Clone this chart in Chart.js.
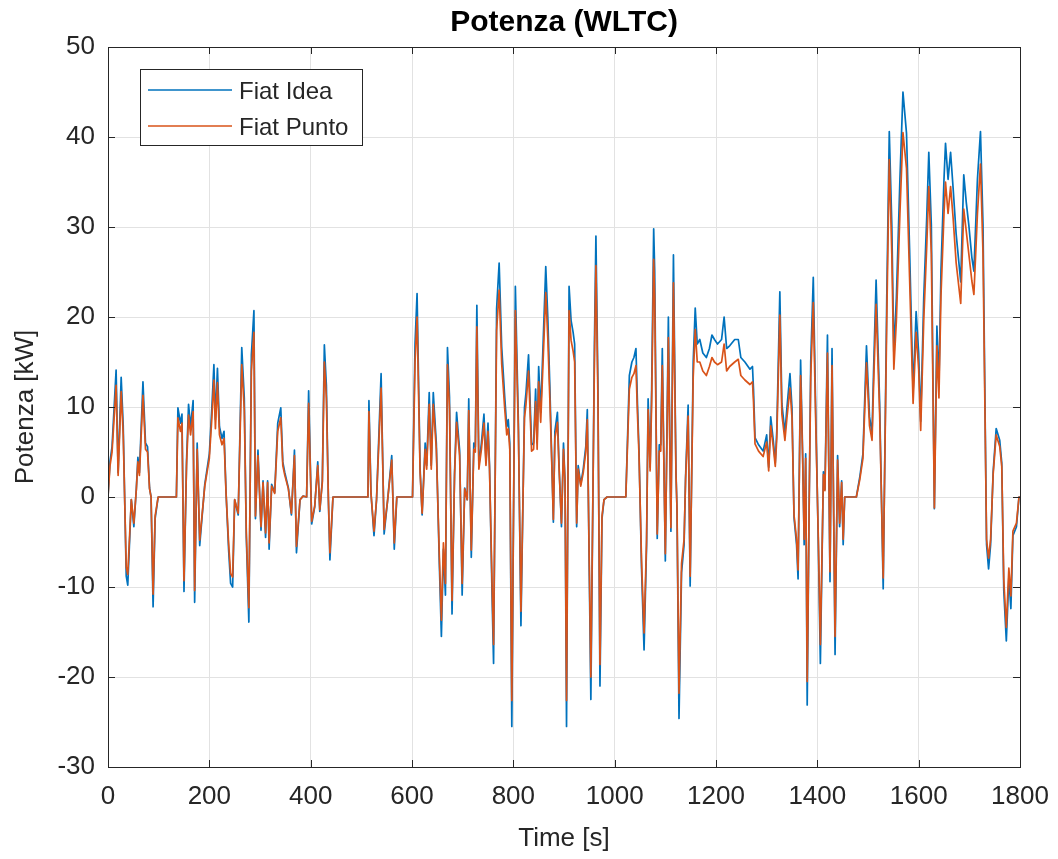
<!DOCTYPE html>
<html>
<head>
<meta charset="utf-8">
<script src="https://cdn.jsdelivr.net/npm/chart.js@4"></script>
<style>
  body { margin: 0; background: #fff; }
</style>
</head>
<body>
<canvas id="potenzaChart" width="1058" height="859"></canvas>
<script>
// tempo [s]
const time = [
  0, 4, 8, 16, 20, 26, 30, 36, 39, 46, 51, 56, 59, 62, 69, 74, 78, 82, 85, 89, 93, 99,
  135, 138, 143, 146, 150, 155, 159, 163, 168, 171, 176, 181, 191, 200, 205, 209, 212, 216,
  220, 225, 229, 233, 238, 242, 246, 250, 257, 264, 269, 273, 278, 283, 288, 291, 296, 302,
  306, 311, 315, 318, 323, 329, 335, 341, 345, 349, 356, 362, 368, 372, 379, 385, 392, 396,
  402, 408, 414, 418, 423, 427, 431, 435, 438, 444,
  513, 515, 519, 525, 530, 539, 545, 552, 560, 565, 570,
  601, 606, 610, 616, 620, 626, 629, 634, 638, 642, 648, 654, 658, 662, 666, 670, 674, 679,
  684, 688, 694, 699, 704, 709, 712, 717, 722, 725, 728, 732, 737, 742, 746, 750, 753, 758,
  761, 767, 772, 777, 783, 787, 790, 793, 797, 804, 810, 815, 822, 825, 830, 836, 840, 844,
  847, 850, 854, 858, 864, 868, 872, 876, 879, 882, 887, 890, 895, 899, 902, 905, 910, 914,
  918, 921, 925, 928, 933, 938, 943, 946, 950, 953, 960, 963, 967, 971, 975, 979, 985,
  1022, 1029, 1034, 1038, 1042, 1045, 1048, 1053, 1058, 1063, 1066, 1070, 1073, 1077, 1079,
  1084, 1088, 1091, 1094, 1100, 1106, 1111, 1116, 1121, 1123, 1127, 1132, 1137, 1140, 1145,
  1149, 1155, 1159, 1163, 1168, 1174, 1181, 1187, 1192, 1197, 1203, 1211, 1216, 1221, 1227,
  1237, 1244, 1249, 1257, 1267, 1272, 1274, 1277, 1284, 1293, 1300, 1304, 1308, 1313, 1317,
  1320, 1326, 1330, 1336, 1340, 1346, 1350, 1354, 1359, 1362, 1367, 1371, 1374, 1377, 1380,
  1384, 1387, 1392, 1397, 1402, 1406, 1412, 1415, 1420, 1425, 1429, 1435, 1440, 1444, 1448,
  1451, 1454, 1477, 1484, 1490, 1497, 1503, 1508, 1511, 1516, 1523, 1530, 1537, 1542, 1547,
  1551, 1556, 1563, 1569, 1576, 1582, 1589, 1595, 1600, 1604, 1610, 1616, 1620, 1625, 1631,
  1636, 1640, 1644, 1650, 1653, 1658, 1663, 1668, 1674, 1683, 1689, 1694, 1699, 1705, 1709,
  1716, 1722, 1727, 1734, 1738, 1742, 1747, 1753, 1760, 1764, 1768, 1773, 1778, 1782, 1786,
  1793, 1798, 1800
];

// Fiat Idea [kW]
const idea = [
  0, 4, 5.6, 14.1, 2.7, 13.3, 8, -8.8, -9.8, -0.3, -3.3, 1, 4.4, 2.7, 12.8, 6, 5.6, 1, 0, -12.2, -2.4, 0,
  0, 9.9, 8.2, 9.2, -10.5, 4, 10.3, 7.8, 10.7, -11.7, 6, -5.4, 1.4, 4.8, 9.9, 14.7, 8.6, 14.3,
  7.8, 6.5, 7.3, 0.5, -5.8, -9.6, -10, -0.3, -2, 16.6, 11, -4.5, -13.9, 15.8, 20.7, -2.4, 5.2, -3.7,
  1.8, -4.5, 1.8, -5.8, 1.4, 0.5, 8.2, 9.9, 3.9, 2.7, 1, -2, 5.2, -6.2, -0.3, 0.1, 0, 11.8,
  -3, -1.1, 3.9, -1.6, 1.8, 16.9, 12.4, -0.3, -7, 0,
  0, 10.7, 0.5, -4.3, -0.3, 13.7, -4.1, -0.3, 4.6, -5.8, 0,
  0, 17, 22.6, 3.1, -2, 6, 3.5, 11.6, 3.5, 11.6, 6, -7.5, -15.5, -5.8, -10.9, 16.6, 11.1, -13,
  2.7, 9.4, 5.2, -10.9, 1, -0.3, 10.9, -6.7, 6, 5.6, 21.3, 3.5, 6, 9.2, 3.9, 8.2, 3.5, -10.9,
  -18.5, 20.9, 26, 16.7, 11.1, 7.8, 8.6, 6, -25.5, 23.4, 8.2, -14.3, 9.9, 11.6, 15.8, 5.8, 6, 12,
  6, 14.5, 9.4, 15.8, 25.6, 20, 12.4, 3.9, -2.8, 7.3, 9.4, 3.9, -3.3, 6, 1.8, -25.5, 23.4, 19.6,
  18.3, 17, -3.3, 3.5, 1.4, 3.1, 5.6, 9.7, -8.8, -22.5, 16.7, 29, 12.4, -21, -2.4, -0.3, 0,
  0, 13.5, 15, 15.5, 16.5, 10.4, 5.3, -7.9, -17, -5.3, 10.9, 3.3, 11.9, 29.8, 25.1,
  -4.6, 5.8, 5.8, 16.5, -7.1, 20, -3.8, 26.9, 2.8, -1.3, -24.6, -8.4, -5.3, 2.3, 10.2,
  -9.9, 15, 21, 17, 17.5, 16, 15.5, 16.5, 18, 17.5, 17, 17.5, 20, 16.5, 16.8,
  17.5, 17.5, 15.5, 15, 14.2, 14.5, 12, 6.6, 5.8, 5.1, 6.9, 3.3, 8.9, 6.3, 3.8,
  7.4, 22.8, 10.4, 7.1, 9.9, 13.7, 9.9, -2.3, -5.3, -9.1, 15.2, 4.8, -5.3, 4.8, -23.1,
  -0.3, 15, 24.4, 8.9, -5.3, -18.5, 2.8, 0.8, 18, -9.4, 16.5, -17.5, 4.6, -3.3, 1.8,
  -5.3, 0, 0, 2.3, 4.8, 16.8, 8.9, 7.1, 14, 24.1, 10.4, -10.2, 22, 40.6, 30.2,
  16, 22.1, 35.3, 45, 40.4, 27.7, 11.7, 20.6, 16, 8.4, 22.1, 31.2, 38.3, 30.2, -1.3,
  19, 12.4, 25.1, 35.3, 39.3, 35.3, 38.3, 34.3, 29.2, 23.9, 35.8, 32.7, 30.2, 26.6, 25.1,
  35.3, 40.6, 30.2, -5.3, -8, -5.3, 2.8, 7.6, 6.3, 3.8, -10.4, -16, -8.9, -12.4, -4.3,
  -3.3, 0, 0
];

// Fiat Punto [kW]
const punto = [
  0, 3.5, 5, 12.4, 2.4, 11.7, 7, -7.8, -8.6, -0.3, -2.9, 0.9, 3.9, 2.4, 11.3, 5.3, 5, 0.9, 0, -10.8, -2.1, 0,
  0, 8.8, 7.3, 8.2, -9.3, 3.5, 9.1, 6.9, 9.5, -10.4, 5.3, -4.8, 1.2, 4.3, 8.8, 13, 7.6, 12.7,
  6.9, 5.8, 6.5, 0.4, -5.1, -8.5, -8.9, -0.3, -1.8, 14.7, 9.7, -4, -12.3, 14, 18.3, -2.1, 4.6, -3.3,
  1.6, -4, 1.6, -5.1, 1.2, 0.4, 7.3, 8.8, 3.5, 2.4, 0.9, -1.8, 4.6, -5.5, -0.3, 0.1, 0, 10.4,
  -2.7, -1, 3.5, -1.4, 1.6, 15, 11, -0.3, -6.2, 0,
  0, 9.5, 0.4, -3.8, -0.3, 12.1, -3.6, -0.3, 4.1, -5.1, 0,
  0, 15, 20, 2.7, -1.8, 5.3, 3.1, 10.3, 3.1, 10.3, 5.3, -6.6, -13.7, -5.1, -9.6, 14.7, 9.8, -11.5,
  2.4, 8.3, 4.6, -9.6, 0.9, -0.3, 9.6, -5.9, 5.3, 5, 18.9, 3.1, 5.3, 8.2, 3.5, 7.3, 3.1, -9.6,
  -16.4, 18.5, 23, 14.8, 9.8, 6.9, 7.6, 5.3, -22.6, 20.7, 7.3, -12.7, 8.8, 10.3, 14, 5.1, 5.3, 10.6,
  5.3, 12.8, 8.3, 14, 22.7, 17.7, 11, 3.5, -2.5, 6.5, 8.3, 3.5, -2.9, 5.3, 1.6, -22.6, 20.7, 17.4,
  16.2, 15, -2.9, 3.1, 1.2, 2.7, 5, 8.6, -7.8, -20, 14.8, 25.7, 11, -18.6, -2.1, -0.3, 0,
  0, 12, 13.3, 13.7, 14.6, 9.2, 4.7, -7, -15.1, -4.7, 9.7, 2.9, 10.5, 26.4, 22.2,
  -4.1, 5.1, 5.1, 14.6, -6.3, 17.7, -3.4, 23.8, 2.5, -1.2, -21.8, -7.4, -4.7, 2, 9,
  -8.8, 13.3, 18.6, 15, 15, 14, 13.5, 14.5, 15.5, 15, 14.7, 15, 17, 14, 14.5,
  15, 15.3, 13.5, 13, 12.5, 12.8, 10.6, 5.9, 5.1, 4.5, 6.1, 2.9, 7.9, 5.6, 3.4,
  6.6, 20.2, 9.2, 6.3, 8.8, 12.1, 8.8, -2, -4.7, -8.1, 13.5, 4.3, -4.7, 4.3, -20.5,
  -0.3, 13.3, 21.6, 7.9, -4.7, -16.4, 2.5, 0.7, 16, -8.3, 14.6, -15.5, 4.1, -2.9, 1.6,
  -4.7, 0, 0, 2, 4.3, 14.9, 7.9, 6.3, 12.4, 21.4, 9.2, -9, 19.5, 37.5, 27,
  14.2, 19.6, 31.5, 40.5, 36.5, 24.5, 10.4, 18.3, 14.2, 7.4, 19.6, 28, 34.5, 27, -1.2,
  16.8, 11, 22.3, 31.5, 35, 31.5, 34.5, 31, 26, 21.5, 32, 29.5, 27, 24, 22.5,
  31.5, 37, 27, -4.7, -6.8, -4.7, 2.5, 6.9, 5.6, 3.4, -9.2, -14.5, -7.9, -11, -3.8,
  -2.9, 0, 0
];

const timeTicks = [0, 200, 400, 600, 800, 1000, 1200, 1400, 1600, 1800];
const powerTicks = [-30, -20, -10, 0, 10, 20, 30, 40, 50];

const FONT = "'Liberation Sans', Arial, sans-serif";
const INK = "#262626";

// frame, inward ticks, axes title and legend, MATLAB style
const frameAndLegend = {
    id: "frameAndLegend",
    afterDraw(chart) {
        const { ctx, chartArea: a, scales } = chart;
        ctx.save();
        ctx.strokeStyle = INK;
        ctx.lineWidth = 1;
        ctx.strokeRect(a.left + 0.5, a.top + 0.5, a.right - a.left, a.bottom - a.top);
        ctx.beginPath();
        timeTicks.forEach((t) => {
            const px = Math.round(scales.x.getPixelForValue(t)) + 0.5;
            ctx.moveTo(px, a.bottom);
            ctx.lineTo(px, a.bottom - 7);
            ctx.moveTo(px, a.top);
            ctx.lineTo(px, a.top + 7);
        });
        powerTicks.forEach((v) => {
            const py = Math.round(scales.y.getPixelForValue(v)) + 0.5;
            ctx.moveTo(a.left, py);
            ctx.lineTo(a.left + 7, py);
            ctx.moveTo(a.right, py);
            ctx.lineTo(a.right - 7, py);
        });
        ctx.stroke();

        // title, centred on the axes
        ctx.fillStyle = "#000";
        ctx.font = "bold 30px " + FONT;
        ctx.textAlign = "center";
        ctx.textBaseline = "middle";
        ctx.fillText("Potenza (WLTC)", (a.left + a.right) / 2, 23);

        // legend box
        const lx = a.left + 32, ly = a.top + 22, lw = 222, lh = 76;
        ctx.fillStyle = "#fff";
        ctx.fillRect(lx, ly, lw, lh);
        ctx.strokeRect(lx + 0.5, ly + 0.5, lw, lh);
        const items = [
            { text: "Fiat Idea", color: "#0072BD", y: ly + 21 },
            { text: "Fiat Punto", color: "#D95319", y: ly + 57 },
        ];
        ctx.font = "24px " + FONT;
        ctx.textAlign = "left";
        items.forEach((it) => {
            ctx.strokeStyle = it.color;
            ctx.lineWidth = 1.5;
            ctx.beginPath();
            ctx.moveTo(lx + 8, it.y);
            ctx.lineTo(lx + 92, it.y);
            ctx.stroke();
            ctx.fillStyle = INK;
            ctx.fillText(it.text, lx + 99, it.y + 2);
        });
        ctx.restore();
    },
};

const ctx = document.getElementById("potenzaChart").getContext("2d");
const potenzaChart = new Chart(ctx, {
    type: "line",
    data: {
        datasets: [
            {
                label: "Fiat Idea",
                data: time.map((t, i) => ({ x: t, y: idea[i] })),
                borderColor: "#0072BD",
                borderWidth: 1.7,
                borderJoinStyle: "round",
                pointRadius: 0,
                tension: 0,
                order: 1,
            },
            {
                label: "Fiat Punto",
                data: time.map((t, i) => ({ x: t, y: punto[i] })),
                borderColor: "#D95319",
                borderWidth: 1.7,
                borderJoinStyle: "round",
                pointRadius: 0,
                tension: 0,
                order: 0,
            },
        ],
    },
    options: {
        responsive: false,
        animation: false,
        events: [],
        layout: { padding: { top: 47, right: 38, bottom: 0, left: 0 } },
        plugins: {
            legend: { display: false },
            tooltip: { enabled: false },
            title: { display: false },
        },
        scales: {
            x: {
                type: "linear",
                min: 0,
                max: 1800,
                afterBuildTicks: (s) => { s.ticks = timeTicks.map((v) => ({ value: v })); },
                afterFit: (s) => {
                    s.height = 92;
                    s.paddingLeft = 0;
                    s.paddingRight = 0;
                },
                ticks: {
                    color: INK,
                    font: { family: FONT, size: 26 },
                    padding: 14,
                    maxRotation: 0,
                    callback: (v) => String(v),
                },
                grid: { color: "#e2e2e2", drawTicks: false },
                border: { display: false },
                title: {
                    display: true,
                    text: "Time [s]",
                    color: INK,
                    font: { family: FONT, size: 26 },
                    padding: { top: 0, bottom: 5 },
                },
            },
            y: {
                min: -30,
                max: 50,
                afterBuildTicks: (s) => { s.ticks = powerTicks.map((v) => ({ value: v })); },
                afterFit: (s) => {
                    s.width = 108;
                    s.paddingTop = 0;
                    s.paddingBottom = 0;
                },
                ticks: {
                    color: INK,
                    font: { family: FONT, size: 26 },
                    padding: 13,
                    callback: (v) => String(v),
                },
                grid: { color: "#e2e2e2", drawTicks: false },
                border: { display: false },
                title: {
                    display: true,
                    text: "Potenza [kW]",
                    color: INK,
                    font: { family: FONT, size: 26 },
                    padding: { top: 10, bottom: 0 },
                },
            },
        },
    },
    plugins: [frameAndLegend],
});
</script>
</body>
</html>
